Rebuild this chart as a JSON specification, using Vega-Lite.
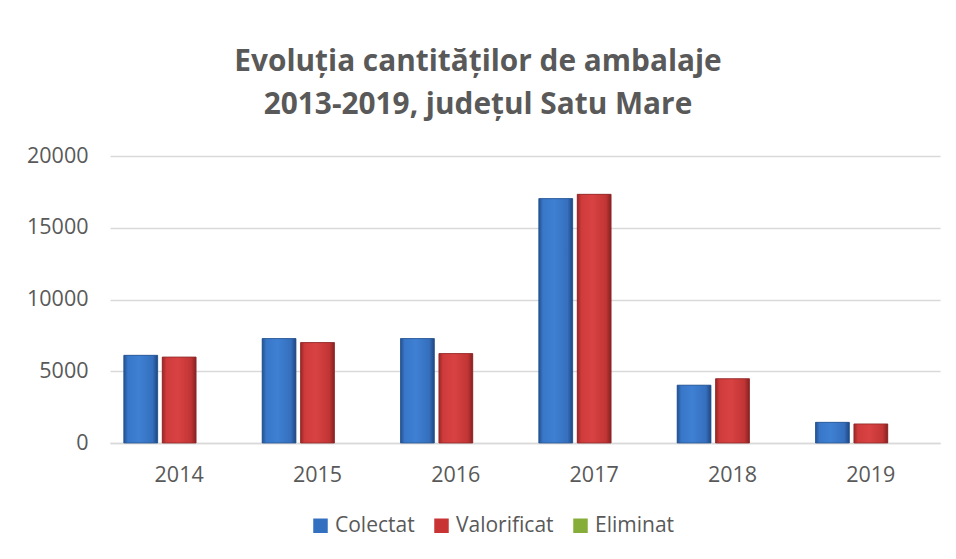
{
  "$schema": "https://vega.github.io/schema/vega-lite/v6.json",
  "width": 830,
  "height": 287,
  "autosize": "none",
  "padding": {"left": 110, "top": 156, "right": 16, "bottom": 116},
  "background": "white",
  "title": {
    "text": ["Evoluția cantităților de ambalaje", "2013-2019, județul Satu Mare"],
    "anchor": "middle",
    "frame": "group",
    "dx": -47,
    "offset": 25,
    "font": "Open Sans",
    "fontSize": 29.8,
    "fontWeight": "bold",
    "color": "#595959",
    "lineHeight": 43
  },
  "data": {
    "values": [
      {"an": "2014", "serie": "Colectat", "valoare": 6110},
      {"an": "2014", "serie": "Valorificat", "valoare": 5990},
      {"an": "2014", "serie": "Eliminat", "valoare": 0},
      {"an": "2015", "serie": "Colectat", "valoare": 7280},
      {"an": "2015", "serie": "Valorificat", "valoare": 7000},
      {"an": "2015", "serie": "Eliminat", "valoare": 0},
      {"an": "2016", "serie": "Colectat", "valoare": 7280},
      {"an": "2016", "serie": "Valorificat", "valoare": 6230},
      {"an": "2016", "serie": "Eliminat", "valoare": 0},
      {"an": "2017", "serie": "Colectat", "valoare": 17030},
      {"an": "2017", "serie": "Valorificat", "valoare": 17330},
      {"an": "2017", "serie": "Eliminat", "valoare": 0},
      {"an": "2018", "serie": "Colectat", "valoare": 4030},
      {"an": "2018", "serie": "Valorificat", "valoare": 4480},
      {"an": "2018", "serie": "Eliminat", "valoare": 0},
      {"an": "2019", "serie": "Colectat", "valoare": 1440},
      {"an": "2019", "serie": "Valorificat", "valoare": 1330},
      {"an": "2019", "serie": "Eliminat", "valoare": 0}
    ]
  },
  "encoding": {
    "x": {
      "field": "an",
      "type": "nominal",
      "scale": {"paddingInner": 0.2, "paddingOuter": 0.1},
      "axis": {
        "title": null,
        "labelAngle": 0,
        "labelFont": "Open Sans",
        "labelFontSize": 21.5,
        "labelColor": "#595959",
        "labelPadding": 21,
        "ticks": false,
        "domainColor": "#d9d9d9",
        "domainWidth": 1.5
      }
    },
    "xOffset": {
      "field": "serie",
      "type": "nominal",
      "sort": ["Colectat", "Valorificat", "Eliminat"],
      "scale": {"paddingInner": 0.12}
    },
    "y": {
      "field": "valoare",
      "type": "quantitative",
      "scale": {"domain": [0, 20000], "nice": false},
      "axis": {
        "title": null,
        "values": [0, 5000, 10000, 15000, 20000],
        "format": "d",
        "labelFont": "Open Sans",
        "labelFontSize": 21.5,
        "labelColor": "#595959",
        "labelPadding": 22,
        "ticks": false,
        "domain": false,
        "gridColor": "#d9d9d9",
        "gridWidth": 1.5
      }
    }
  },
  "layer": [
    {
      "mark": {"type": "bar"},
      "encoding": {
        "color": {
          "field": "serie",
          "type": "nominal",
          "sort": ["Colectat", "Valorificat", "Eliminat"],
          "scale": {
            "domain": ["Colectat", "Valorificat", "Eliminat"],
            "range": ["#3470c0", "#c83434", "#86ad3a"]
          },
          "legend": {
            "title": null,
            "orient": "none",
            "direction": "horizontal",
            "legendX": 200,
            "legendY": 359,
            "symbolType": "square",
            "symbolSize": 210,
            "symbolStrokeWidth": 0,
            "labelFont": "Open Sans",
            "labelFontSize": 21,
            "labelColor": "#595959",
            "labelOffset": 4,
            "columnPadding": 16
          }
        }
      }
    },
    {
      "mark": {"type": "bar", "strokeWidth": 0.8},
      "encoding": {
        "fill": {
          "condition": [
            {
              "test": "datum.serie === 'Colectat'",
              "value": {
                "gradient": "linear", "x1": 0, "x2": 1, "y1": 0, "y2": 0,
                "stops": [
                  {"offset": 0, "color": "#24508f"},
                  {"offset": 0.12, "color": "#3877c8"},
                  {"offset": 0.45, "color": "#3f80d3"},
                  {"offset": 0.85, "color": "#356fbd"},
                  {"offset": 1, "color": "#1f4680"}
                ]
              }
            },
            {
              "test": "datum.serie === 'Valorificat'",
              "value": {
                "gradient": "linear", "x1": 0, "x2": 1, "y1": 0, "y2": 0,
                "stops": [
                  {"offset": 0, "color": "#9a2626"},
                  {"offset": 0.12, "color": "#cf3b3b"},
                  {"offset": 0.45, "color": "#d94242"},
                  {"offset": 0.85, "color": "#c23535"},
                  {"offset": 1, "color": "#862121"}
                ]
              }
            }
          ],
          "value": "transparent"
        },
        "stroke": {
          "condition": [
            {"test": "datum.serie === 'Colectat'", "value": "#2a568f"},
            {"test": "datum.serie === 'Valorificat'", "value": "#8e2a2a"}
          ],
          "value": "transparent"
        }
      }
    }
  ],
  "config": {
    "view": {"stroke": null}
  }
}
